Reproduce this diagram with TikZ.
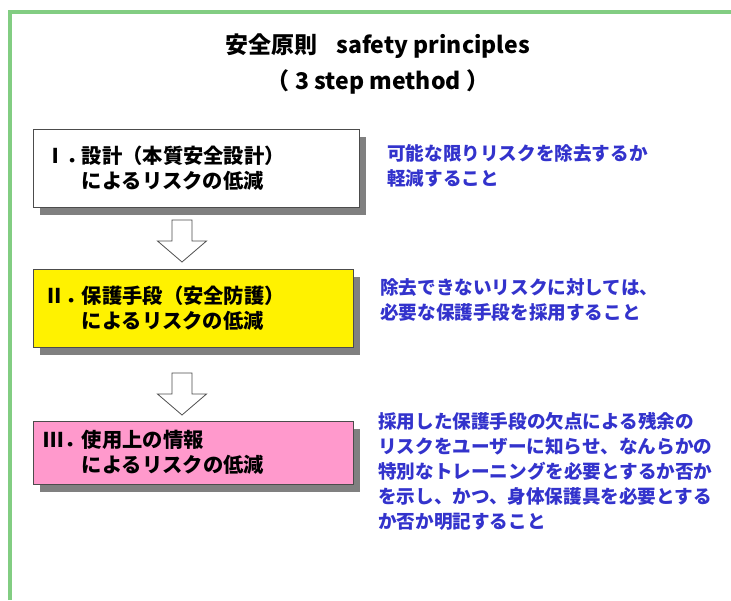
\documentclass[tikz,border=0pt]{standalone}
\usepackage{fontspec}
\setmainfont{Noto Sans CJK JP}
\usepackage{tikz}
\usetikzlibrary{positioning,shadows}
\definecolor{frameg}{RGB}{130,205,130}
\definecolor{noteblue}{RGB}{51,51,204}
\definecolor{boxpink}{RGB}{255,153,204}
\tikzset{every picture/.style={x=1pt, y=-1pt}}
\tikzset{stepbox/.style={draw=black!70, line width=0.8pt, inner sep=0pt,
  drop shadow={shadow xshift=7pt, shadow yshift=-8pt, fill=black!50, opacity=1}}}
\tikzset{steptext/.style={inner sep=0pt, align=left, font=\bfseries\fontsize{20.3}{25}\selectfont}}
\tikzset{note/.style={inner sep=0pt, anchor=west, align=left, text=noteblue, font=\bfseries\fontsize{18.6}{25}\selectfont}}
\tikzset{hollowarrow/.style={draw=black!70, fill=white, line width=0.8pt, line join=miter}}

\begin{document}
\begin{tikzpicture}
\useasboundingbox (0,0) rectangle (731,600);
\draw[frameg, line width=4pt] (10,600) -- (10,12) -- (731,12);
\node[inner sep=0pt, font=\bfseries\fontsize{23}{28}\selectfont] (t1) at (378,46) {安全原則\hspace{0.8em}safety principles};
\node[inner sep=0pt, font=\bfseries\fontsize{23}{28}\selectfont] (t2) at (378,82) {（ 3 step method ）};
% boxes
\node[stepbox, fill=white, minimum width=326pt, minimum height=78pt] (b1) at (196,168) {};
\node[stepbox, fill=yellow, minimum width=320pt, minimum height=78pt] (b2) at (193,308) {};
\node[stepbox, fill=boxpink, minimum width=320pt, minimum height=63pt] (b3) at (193,452.5) {};
\node[steptext, right=13pt of b1.west] (l1) {\makebox[36pt][l]{Ⅰ．}設計（本質安全設計）\\\hspace*{36pt}によるリスクの低減};
\node[steptext, right=12pt of b2.west] (l2) {\makebox[37pt][l]{Ⅱ．}保護手段（安全防護）\\\hspace*{37pt}によるリスクの低減};
\node[steptext, right=11pt of b3.west] (l3) {\makebox[38pt][l]{Ⅲ．}使用上の情報\\\hspace*{38pt}によるリスクの低減};
% hollow arrows
\coordinate (a1) at (182,220);
\coordinate (a2) at (182,373);
\foreach \a in {a1,a2}
  \draw[hollowarrow] (\a) ++(-10,0) -- ++(20,0) -- ++(0,21) -- ++(14.5,0)
    -- ++(-24.5,21) -- ++(-24.5,-21) -- ++(14.5,0) -- cycle;
% notes
\node[note] (n1) at (387,166) {可能な限りリスクを除去するか\\軽減すること};
\node[note] (n2) at (380,299.5) {除去できないリスクに対しては、\\必要な保護手段を採用すること};
\node[note] (n3) at (378,471) {採用した保護手段の欠点による残余の\\リスクをユーザーに知らせ、なんらかの\\特別なトレーニングを必要とするか否か\\を示し、かつ、身体保護具を必要とする\\か否か明記すること};
\end{tikzpicture}
\end{document}
